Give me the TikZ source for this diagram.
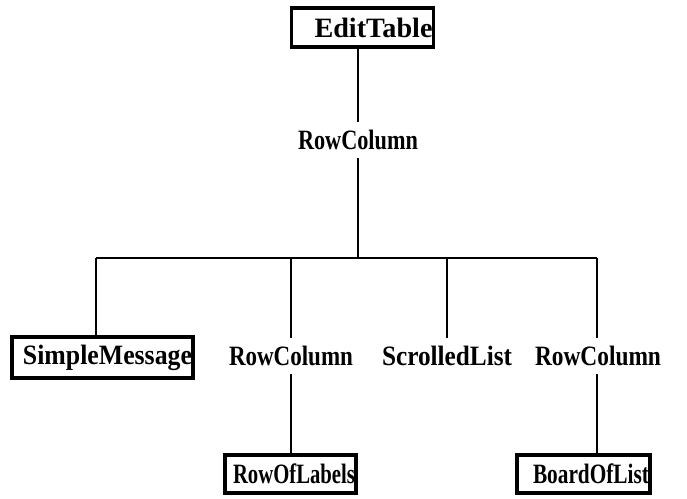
\documentclass[tikz,border=0pt]{standalone}
\usepackage{fontspec}
\usepackage{graphicx}
\setmainfont{Liberation Serif}[FakeStretch=0.8]
% set a label at a given width, keeping its natural height
\newcommand{\fitto}[2]{\resizebox{#1}{\height}{#2}}
\begin{document}
\begin{tikzpicture}[x=1pt,y=-1pt,
  lbl/.style={font=\fontsize{28}{30}\selectfont\bfseries, inner sep=0pt, minimum height=36pt},
  classbox/.style={draw, line width=3.5pt, font=\fontsize{28}{30}\selectfont\bfseries,
    inner sep=0pt, align=right},
  link/.style={line width=2pt}]
\useasboundingbox (0,0) rectangle (687,498);

% root of the hierarchy
\node[classbox, minimum width=142pt, minimum height=39pt, text width=140pt] (edit) at (362.5,27.5) {\fitto{118pt}{EditTable}};
\node[lbl] (rcTop) at (358,140) {\fitto{120pt}{RowColumn}};

% second level
\node[classbox, minimum width=181pt, minimum height=41pt, text width=179pt] (simple) at (102.5,357.5) {\fitto{169pt}{SimpleMessage}};
\node[lbl] (rcA) at (291,356) {\fitto{124pt}{RowColumn}};
\node[lbl] (scroll) at (447,356) {\fitto{130pt}{ScrolledList}};
\node[lbl] (rcB) at (598,356) {\fitto{126pt}{RowColumn}};

% third level
\node[classbox, minimum width=131pt, minimum height=38pt, text width=129pt] (rowlab) at (290.5,474) {\fitto{122pt}{RowOfLabels}};
\node[classbox, minimum width=133pt, minimum height=38pt, text width=131pt] (board) at (583.5,474) {\fitto{116pt}{BoardOfList}};

% branching bar
\coordinate (hub) at (358,258);
\coordinate (bL) at (96,258);
\coordinate (bR) at (597,258);

\draw[link] (edit.south -| hub) -- (rcTop.north);
\draw[link] (rcTop.south) -- (hub);
\draw[link] (bL) -- (bR);
\draw[link] (bL) -- (bL |- simple.north);
\draw[link] (rcA.north) -- (rcA.north |- hub);
\draw[link] (scroll.north) -- (scroll.north |- hub);
\draw[link] (bR) -- (bR |- rcB.north);
\draw[link] (rcA.south) -- (rcA.south |- rowlab.north);
\draw[link] (bR |- rcB.south) -- (bR |- board.north);
\end{tikzpicture}
\end{document}
